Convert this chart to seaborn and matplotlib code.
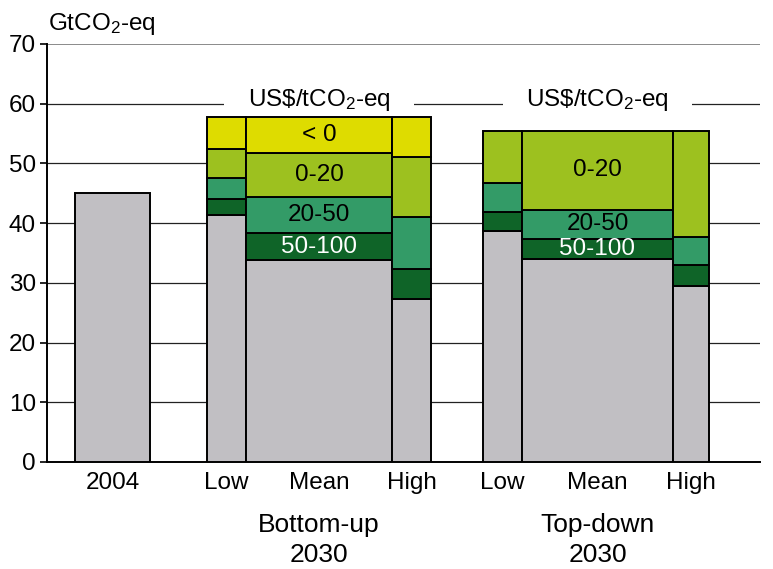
import matplotlib
matplotlib.use("Agg")
import matplotlib.pyplot as plt
import seaborn as sns

# Emissions in GtCO2-eq: baseline plus abatement bands by cost class
categories = ["2004", "Low", "Mean", "High", "Low", "Mean", "High"]
group_labels = ["Bottom-up\n2030", "Top-down\n2030"]
band_names = ["50-100", "20-50", "0-20", "< 0"]

baseline = [45.0, 41.4, 33.8, 27.3, 38.7, 34.0, 29.4]
cost_50_100 = [0.0, 2.6, 4.5, 5.1, 3.1, 3.4, 3.6]
cost_20_50 = [0.0, 3.5, 6.0, 8.7, 5.0, 4.8, 4.6]
cost_0_20 = [0.0, 4.9, 7.4, 9.9, 8.7, 13.3, 17.9]
cost_below_0 = [0.0, 5.3, 6.0, 6.7, 0.0, 0.0, 0.0]

# Layout: bar left edges and widths on the horizontal axis
lefts = [28, 160, 199, 345, 436, 475, 626]
widths = [75, 39, 146, 39, 39, 151, 36]
mean_index = [2, 5]

sns.set_theme(style="white")
plt.rcParams["font.family"] = ["Liberation Sans", "DejaVu Sans"]
plt.rcParams["mathtext.fontset"] = "custom"
plt.rcParams["mathtext.rm"] = "Liberation Sans"
plt.rcParams["mathtext.it"] = "Liberation Sans"
plt.rcParams["text.color"] = "black"
plt.rcParams["xtick.color"] = "black"
plt.rcParams["ytick.color"] = "black"

grey = "#C1BFC3"
band_colors = ["#0F6428", "#339B67", "#9DC11F", "#DEDC00"]
band_text = ["white", "black", "black", "black"]
fs = 17.5

fig = plt.figure(figsize=(7.73, 5.69), dpi=100)
ax = fig.add_axes([47 / 773, 1 - 462 / 569, 713 / 773, 418 / 569])

centers = [l + w / 2 for l, w in zip(lefts, widths)]
edge = dict(edgecolor="black", linewidth=1.4, zorder=3)

ax.bar(centers, baseline, width=widths, color=grey, **edge)
bottoms = list(baseline)
bands = [cost_50_100, cost_20_50, cost_0_20, cost_below_0]
for name, vals, col, tcol in zip(band_names, bands, band_colors, band_text):
    for i, v in enumerate(vals):
        if v <= 0:
            continue
        ax.bar(centers[i], v, width=widths[i], bottom=bottoms[i], color=col, **edge)
        if i in mean_index:
            ax.text(centers[i], bottoms[i] + v / 2, name, ha="center", va="center",
                    fontsize=fs, color=tcol, zorder=4)
        bottoms[i] += v

# horizontal grid lines running behind the bars
for yv in range(10, 70, 10):
    ax.axhline(yv, color="#222222", linewidth=0.9, zorder=1)
ax.axhline(70, color="#777777", linewidth=1.2, zorder=1)

# cost-class headers with white backing that interrupts the grid line
for mi in mean_index:
    ax.text(centers[mi], 60.6, "US\\$/tCO$_2$-eq", ha="center", va="center", fontsize=fs,
            zorder=2, bbox=dict(boxstyle="square,pad=0.95", facecolor="white", edgecolor="none"))

ax.set_xlim(0, 713)
ax.set_ylim(0, 70)
ax.set_yticks(range(0, 71, 10))
ax.set_yticklabels([str(v) for v in range(0, 71, 10)], fontsize=fs)
ax.set_xticks(centers)
ax.set_xticklabels(categories, fontsize=fs)
ax.tick_params(axis="x", length=0, pad=7)
ax.tick_params(axis="y", length=5, width=1.2, color="black", direction="out", pad=3, left=True)

for s in ["top", "right"]:
    ax.spines[s].set_visible(False)
ax.spines["left"].set_color("black")
ax.spines["left"].set_linewidth(1.4)
ax.spines["bottom"].set_color("black")
ax.spines["bottom"].set_linewidth(1.4)
ax.spines["left"].set_zorder(5)

for mi, lab in zip(mean_index, group_labels):
    ax.text(centers[mi], -0.186, lab, transform=ax.get_xaxis_transform(), ha="center",
            va="center", fontsize=19, linespacing=1.3)

fig.text(48 / 773, 1 - 24 / 569, "GtCO$_2$-eq", ha="left", va="center", fontsize=fs)

fig.savefig("out.png", dpi=100)
